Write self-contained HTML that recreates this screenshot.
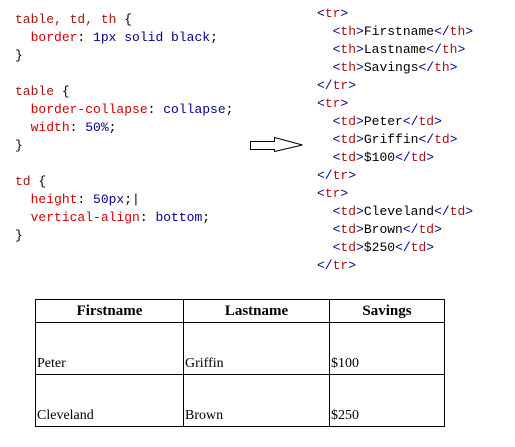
<!DOCTYPE html>
<html><head><style>
body{margin:0;width:515px;height:447px;background:#fff;position:relative;overflow:hidden}
pre{position:absolute;margin:0;font-family:"Liberation Mono",monospace;font-size:13px;line-height:18px;color:#000}
.s{color:#a31515}.p{color:#d00000}.v{color:#00008b}.b{color:#00008b}.t{color:#a31515}
table{position:absolute;left:35px;top:299px;width:410px;border-collapse:collapse;font-family:"Liberation Serif",serif;font-size:14px}
th,td{border:1.5px solid #000;padding:0 1px}
th{height:22px;font-weight:bold;font-size:15px}
td{height:49px;vertical-align:bottom;padding-bottom:2px}
</style></head><body>
<pre style="left:15px;top:11px"><span class="s">table, td, th</span> {
  <span class="p">border</span>: <span class="v">1px solid black</span>;
}

<span class="s">table</span> {
  <span class="p">border-collapse</span>: <span class="v">collapse</span>;
  <span class="p">width</span>: <span class="v">50%</span>;
}

<span class="s">td</span> {
  <span class="p">height</span>: <span class="v">50px</span>;|
  <span class="p">vertical-align</span>: <span class="v">bottom</span>;
}</pre>
<pre style="left:317px;top:5px"><span class="b">&lt;</span><span class="t">tr</span><span class="b">&gt;</span>
  <span class="b">&lt;</span><span class="t">th</span><span class="b">&gt;</span>Firstname<span class="b">&lt;/</span><span class="t">th</span><span class="b">&gt;</span>
  <span class="b">&lt;</span><span class="t">th</span><span class="b">&gt;</span>Lastname<span class="b">&lt;/</span><span class="t">th</span><span class="b">&gt;</span>
  <span class="b">&lt;</span><span class="t">th</span><span class="b">&gt;</span>Savings<span class="b">&lt;/</span><span class="t">th</span><span class="b">&gt;</span>
<span class="b">&lt;/</span><span class="t">tr</span><span class="b">&gt;</span>
<span class="b">&lt;</span><span class="t">tr</span><span class="b">&gt;</span>
  <span class="b">&lt;</span><span class="t">td</span><span class="b">&gt;</span>Peter<span class="b">&lt;/</span><span class="t">td</span><span class="b">&gt;</span>
  <span class="b">&lt;</span><span class="t">td</span><span class="b">&gt;</span>Griffin<span class="b">&lt;/</span><span class="t">td</span><span class="b">&gt;</span>
  <span class="b">&lt;</span><span class="t">td</span><span class="b">&gt;</span>$100<span class="b">&lt;/</span><span class="t">td</span><span class="b">&gt;</span>
<span class="b">&lt;/</span><span class="t">tr</span><span class="b">&gt;</span>
<span class="b">&lt;</span><span class="t">tr</span><span class="b">&gt;</span>
  <span class="b">&lt;</span><span class="t">td</span><span class="b">&gt;</span>Cleveland<span class="b">&lt;/</span><span class="t">td</span><span class="b">&gt;</span>
  <span class="b">&lt;</span><span class="t">td</span><span class="b">&gt;</span>Brown<span class="b">&lt;/</span><span class="t">td</span><span class="b">&gt;</span>
  <span class="b">&lt;</span><span class="t">td</span><span class="b">&gt;</span>$250<span class="b">&lt;/</span><span class="t">td</span><span class="b">&gt;</span>
<span class="b">&lt;/</span><span class="t">tr</span><span class="b">&gt;</span></pre>
<svg style="position:absolute;left:0;top:0" width="515" height="447"><polygon points="250.5,141.5 274.5,141.5 274.5,137.5 302.5,145 274.5,151.5 274.5,149.5 250.5,149.5" fill="#fff" stroke="#000" stroke-width="1"/></svg>
<table>
<tr><th>Firstname</th><th>Lastname</th><th>Savings</th></tr>
<tr><td style="width:145px">Peter</td><td style="width:143px">Griffin</td><td>$100</td></tr>
<tr><td>Cleveland</td><td>Brown</td><td>$250</td></tr>
</table>
</body></html>
